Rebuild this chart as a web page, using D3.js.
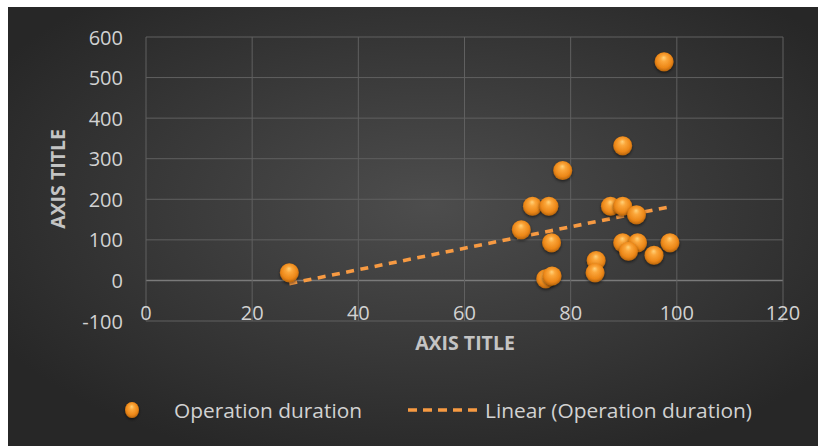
<!DOCTYPE html>
<html>
<head>
<meta charset="utf-8">
<script src="https://cdn.jsdelivr.net/npm/d3@7/dist/d3.min.js"></script>
<style>
  html, body { margin: 0; padding: 0; background: #ffffff; }
  svg { display: block; }
  text { font-family: "Open Sans", "Noto Sans", sans-serif; }
</style>
</head>
<body>
<svg id="chart" width="818" height="446"></svg>
<script>
// Operation duration samples (x, y)
const xValues = [27, 97.6, 89.8, 78.5, 72.8, 75.9, 70.7, 76.4, 87.5, 89.8,
                 92.4, 89.8, 92.6, 90.9, 98.7, 95.7, 84.8, 84.6, 75.3, 76.5];
const yValues = [19, 539, 332, 271, 183, 183, 125, 93, 183, 183,
                 162, 93, 93, 72, 93, 62, 49, 19, 4, 11];
const xTicks = [0, 20, 40, 60, 80, 100, 120];
const yTicks = [-100, 0, 100, 200, 300, 400, 500, 600];
const seriesName = "Operation duration";
const trendName = "Linear (Operation duration)";
const axisTitleX = "AXIS TITLE";
const axisTitleY = "AXIS TITLE";

const svg = d3.select("#chart");
const defs = svg.append("defs");

// Dark chart-area background with a soft lighter centre
const bg = defs.append("radialGradient").attr("id", "bgGrad")
  .attr("cx", "52%").attr("cy", "45%").attr("r", "62%");
bg.append("stop").attr("offset", "0%").attr("stop-color", "#4d4d4d");
bg.append("stop").attr("offset", "100%").attr("stop-color", "#272727");

// Glossy orange sphere for the markers
const ball = defs.append("radialGradient").attr("id", "ballGrad")
  .attr("cx", "50%").attr("cy", "45%").attr("r", "55%")
  .attr("fx", "48%").attr("fy", "28%");
ball.append("stop").attr("offset", "0%").attr("stop-color", "#ffd27a");
ball.append("stop").attr("offset", "30%").attr("stop-color", "#fba63a");
ball.append("stop").attr("offset", "75%").attr("stop-color", "#ec8718");
ball.append("stop").attr("offset", "100%").attr("stop-color", "#b8650c");

const shadow = defs.append("filter").attr("id", "ballShadow")
  .attr("x", "-50%").attr("y", "-50%").attr("width", "200%").attr("height", "200%");
shadow.append("feDropShadow").attr("dx", 0).attr("dy", 1.5)
  .attr("stdDeviation", 1.6).attr("flood-color", "#000").attr("flood-opacity", 0.55);

svg.append("rect").attr("x", 8).attr("y", 7).attr("width", 810).attr("height", 439)
  .attr("fill", "url(#bgGrad)");

const x = d3.scaleLinear().domain([0, 120]).range([146, 783]);
const y = d3.scaleLinear().domain([-100, 600]).range([321, 37]);

const gridColor = "#606060";
const tickColor = "#d2d2d2";
const tickSize = 20;

// Gridlines
svg.append("g").selectAll("line").data(yTicks).join("line")
  .attr("x1", x(0)).attr("x2", x(120))
  .attr("y1", d => y(d)).attr("y2", d => y(d))
  .attr("stroke", d => d === 0 ? "#7a7a7a" : gridColor)
  .attr("stroke-width", d => d === 0 ? 1.6 : 1);
svg.append("g").selectAll("line").data(xTicks).join("line")
  .attr("x1", d => x(d)).attr("x2", d => x(d))
  .attr("y1", y(600)).attr("y2", y(-100))
  .attr("stroke", gridColor).attr("stroke-width", 1);

// Tick labels
svg.append("g").selectAll("text").data(yTicks).join("text")
  .attr("x", 123).attr("y", d => y(d))
  .attr("text-anchor", "end").attr("dominant-baseline", "central")
  .attr("font-size", tickSize).attr("fill", tickColor)
  .text(d => d);
svg.append("g").selectAll("text").data(xTicks).join("text")
  .attr("x", d => x(d)).attr("y", 312)
  .attr("text-anchor", "middle").attr("dominant-baseline", "central")
  .attr("font-size", tickSize).attr("fill", tickColor)
  .text(d => d);

// Axis titles
svg.append("text").attr("x", 465).attr("y", 342)
  .attr("text-anchor", "middle").attr("dominant-baseline", "central")
  .attr("font-size", 19.5).attr("font-weight", "bold").attr("fill", "#c4c4c4")
  .text(axisTitleX);
svg.append("text").attr("transform", "translate(57,179) rotate(-90)")
  .attr("text-anchor", "middle").attr("dominant-baseline", "central")
  .attr("font-size", 19.5).attr("font-weight", "bold").attr("fill", "#c4c4c4")
  .text(axisTitleY);

// Least-squares trend line over the data's x range
const pts = xValues.map((v, i) => ({ x: v, y: yValues[i] }));
const mx = d3.mean(xValues), my = d3.mean(yValues);
const slope = d3.sum(pts, p => (p.x - mx) * (p.y - my)) / d3.sum(pts, p => (p.x - mx) ** 2);
const intercept = my - slope * mx;
const [xMin, xMax] = d3.extent(xValues);
const trend = [xMin, xMax].map(v => ({ x: v, y: intercept + slope * v }));

const trendColor = "#f79a42";
svg.append("path").datum(trend)
  .attr("d", d3.line().x(d => x(d.x)).y(d => y(d.y)))
  .attr("fill", "none").attr("stroke", trendColor)
  .attr("stroke-width", 3.6).attr("stroke-dasharray", "8,6.5");

// Markers
svg.append("g").selectAll("circle").data(pts).join("circle")
  .attr("cx", d => x(d.x)).attr("cy", d => y(d.y)).attr("r", 9.5)
  .attr("fill", "url(#ballGrad)").attr("filter", "url(#ballShadow)");

// Legend
const legY = 410;
svg.append("ellipse").attr("cx", 132).attr("cy", legY).attr("rx", 7).attr("ry", 8)
  .attr("fill", "url(#ballGrad)").attr("filter", "url(#ballShadow)");
svg.append("text").attr("x", 174).attr("y", legY)
  .attr("dominant-baseline", "central").attr("font-size", 20.5).attr("fill", tickColor)
  .attr("textLength", 188).attr("lengthAdjust", "spacingAndGlyphs")
  .text(seriesName);
svg.append("line").attr("x1", 408).attr("x2", 479).attr("y1", legY).attr("y2", legY)
  .attr("stroke", trendColor).attr("stroke-width", 3.6).attr("stroke-dasharray", "9,6");
svg.append("text").attr("x", 485).attr("y", legY)
  .attr("dominant-baseline", "central").attr("font-size", 20.5).attr("fill", tickColor)
  .attr("textLength", 267).attr("lengthAdjust", "spacingAndGlyphs")
  .text(trendName);
</script>
</body>
</html>
